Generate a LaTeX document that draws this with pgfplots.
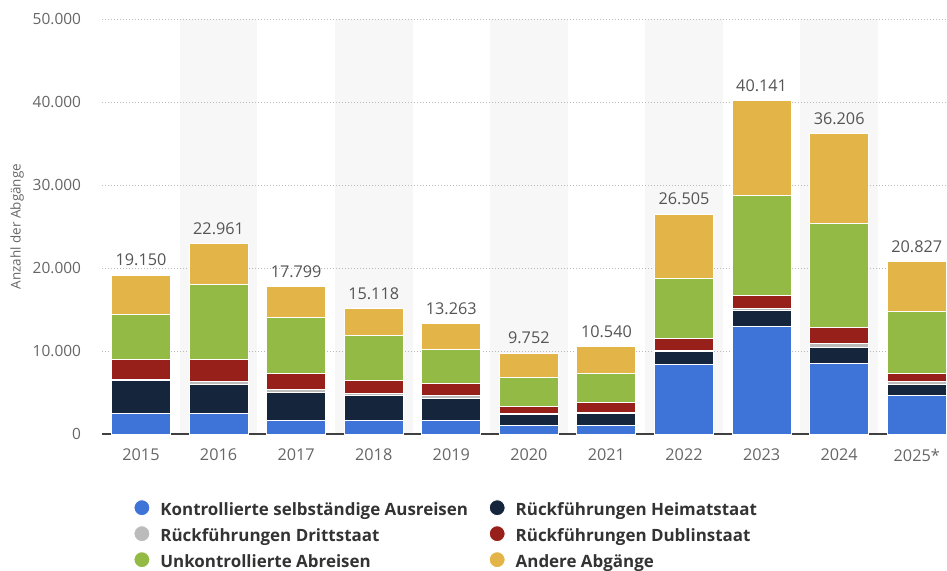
\documentclass[border=0pt]{standalone}
\usepackage{fontspec}
\setmainfont{Open Sans}
\usepackage{pgfplots}
\pgfplotsset{compat=1.18}

\definecolor{cblue}{HTML}{3E74D7}
\definecolor{cnavy}{HTML}{15263C}
\definecolor{cgray}{HTML}{BBBBBB}
\definecolor{cred}{HTML}{98201A}
\definecolor{cgreen}{HTML}{93BA44}
\definecolor{cyellow}{HTML}{E3B447}
\definecolor{band}{HTML}{F7F7F7}
\definecolor{ticktext}{HTML}{666666}
\definecolor{valtext}{HTML}{555555}
\definecolor{legtext}{HTML}{333333}

\pgfplotsset{
  frame/.style={at={(0,0)}, anchor=south west, scale only axis,
    width=844.8bp, height=415bp, xmin=-0.5, xmax=10.39, ymin=0, ymax=50000},
  dot/.style={legend image code/.code={\fill[##1] (8bp,0.3em) circle (8bp);}},
}

\begin{document}
\begin{tikzpicture}
% background bands
\begin{axis}[frame, hide axis]
  \fill[band] (axis cs:0.5,0) rectangle (axis cs:1.5,50000);
  \fill[band] (axis cs:2.5,0) rectangle (axis cs:3.5,50000);
  \fill[band] (axis cs:4.5,0) rectangle (axis cs:5.5,50000);
  \fill[band] (axis cs:6.5,0) rectangle (axis cs:7.5,50000);
  \fill[band] (axis cs:8.5,0) rectangle (axis cs:9.5,50000);
\end{axis}

\begin{axis}[
    frame,
    ybar stacked,
    bar width=59bp,
    axis line style={draw=none},
    tick style={draw=none},
    scaled y ticks=false,
    xtick={0,...,10},
    xticklabels={2015,2016,2017,2018,2019,2020,2021,2022,2023,2024,2025*},
    ytick={0,10000,...,50000},
    yticklabels={0,10.000,20.000,30.000,40.000,50.000},
    xticklabel style={font=\fontsize{16.3}{19}\selectfont, text=ticktext, anchor=north, inner sep=0pt, yshift=-15bp},
    yticklabel style={font=\fontsize{15.5}{18}\selectfont, text=ticktext, anchor=east, inner sep=0pt, xshift=-21bp},
    ymajorgrids,
    grid style={draw=gray!55, line width=0.8bp, dash pattern=on 1bp off 2bp},
    ylabel={Anzahl der Abgänge},
    every axis y label/.style={at={(axis description cs:-0.1006,0.5)}, rotate=90, anchor=center,
      font=\fontsize{13.5}{16}\selectfont, text=ticktext},
    every axis plot/.append style={draw=white, line width=1bp},
    legend columns=2,
    legend cell align=left,
    legend style={at={(0,0)}, anchor=north west, xshift=31bp, yshift=-65bp,
      draw=none, fill=none, inner sep=0pt, column sep=10bp, row sep=7bp,
      font=\fontsize{17}{20}\selectfont\bfseries, text=legtext,
      nodes={inner sep=0pt, text height=12bp, text depth=3bp}},
  ]
  % Kontrollierte selbständige Ausreisen
  \addplot[fill=cblue, dot] coordinates {(0,2500) (1,2500) (2,1600) (3,1600) (4,1600) (5,970) (6,970) (7,8340) (8,12970) (9,8460) (10,4630)};
  \addlegendentry{\makebox[318.3bp][l]{Kontrollierte selbständige Ausreisen}}
  % Rückführungen Heimatstaat
  \addplot[fill=cnavy, dot] coordinates {(0,4000) (1,3420) (2,3400) (3,3070) (4,2700) (5,1330) (6,1530) (7,1610) (8,1900) (9,2020) (10,1380)};
  \addlegendentry{Rückführungen Heimatstaat}
  % Rückführungen Drittstaat
  \addplot[fill=cgray, dot] coordinates {(0,50) (1,400) (2,320) (3,170) (4,300) (5,200) (6,100) (7,120) (8,200) (9,370) (10,320)};
  \addlegendentry{\makebox[318.3bp][l]{Rückführungen Drittstaat}}
  % Rückführungen Dublinstaat
  \addplot[fill=cred, dot] coordinates {(0,2400) (1,2620) (2,2020) (3,1650) (4,1530) (5,800) (6,1230) (7,1420) (8,1620) (9,2000) (10,1010)};
  \addlegendentry{Rückführungen Dublinstaat}
  % Unkontrollierte Abreisen
  \addplot[fill=cgreen, dot] coordinates {(0,5400) (1,9030) (2,6650) (3,5360) (4,4030) (5,3560) (6,3510) (7,7220) (8,12050) (9,12540) (10,7380)};
  \addlegendentry{\makebox[318.3bp][l]{Unkontrollierte Abreisen}}
  % Andere Abgänge
  \addplot[fill=cyellow, dot] coordinates {(0,4800) (1,4991) (2,3809) (3,3268) (4,3103) (5,2892) (6,3200) (7,7795) (8,11401) (9,10816) (10,6107)};
  \addlegendentry{Andere Abgänge}

  \draw[draw=black!75, line width=2bp] (axis cs:-0.5,0) -- (axis cs:10.39,0);
\end{axis}

% totals above the bars
\begin{axis}[frame, hide axis]
  \addplot[draw=none, mark=none, point meta=explicit symbolic, nodes near coords,
    every node near coord/.style={font=\fontsize{16.3}{19}\selectfont, text=valtext,
      anchor=south, inner sep=0pt, yshift=8.7bp}]
    coordinates {(0,19150) [19.150] (1,22961) [22.961] (2,17799) [17.799] (3,15118) [15.118]
      (4,13263) [13.263] (5,9752) [9.752] (6,10540) [10.540] (7,26505) [26.505]
      (8,40141) [40.141] (9,36206) [36.206] (10,20827) [20.827]};
\end{axis}
\pgfresetboundingbox
\useasboundingbox (-102.2bp,-137bp) rectangle (844.8bp,434bp);
\end{tikzpicture}
\end{document}
